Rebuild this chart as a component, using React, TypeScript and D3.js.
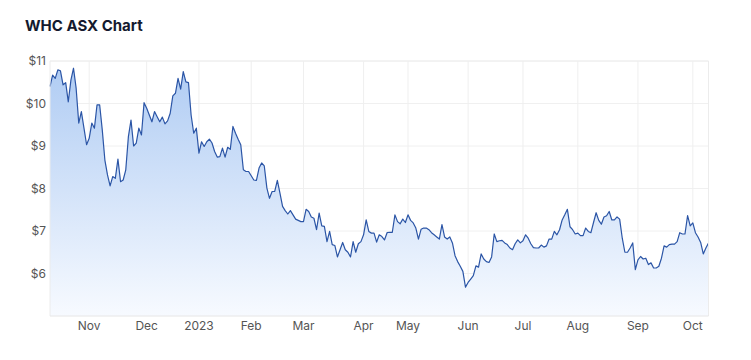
import React from "react";
import * as d3 from "d3";

// Daily closing prices (A$), one per ASX trading day from 11 Oct 2022 to 10 Oct 2023
const prices: number[] = [
  10.40, 10.67, 10.59, 10.79, 10.77, 10.44, 10.49, 10.04, 10.55, 10.83,
  10.36, 9.54, 9.81, 9.42, 9.03, 9.18, 9.54, 9.42, 9.97, 9.97,
  9.38, 8.67, 8.32, 8.06, 8.28, 8.24, 8.69, 8.16, 8.20, 8.44,
  9.22, 9.61, 9.00, 9.07, 9.42, 9.26, 10.02, 9.89, 9.73, 9.57,
  9.81, 9.69, 9.57, 9.68, 9.52, 9.59, 9.77, 10.18, 10.24, 10.59,
  10.34, 10.75, 10.51, 10.49, 9.73, 9.30, 9.42, 8.83, 9.10, 8.99,
  9.10, 9.16, 9.07, 8.87, 8.74, 8.75, 8.95, 8.74, 8.97, 8.92,
  9.46, 9.30, 9.16, 9.03, 8.44, 8.40, 8.40, 8.30, 8.20, 8.19,
  8.48, 8.60, 8.53, 8.01, 7.77, 7.93, 7.93, 8.19, 7.89, 7.58,
  7.48, 7.40, 7.48, 7.38, 7.28, 7.25, 7.22, 7.22, 7.51, 7.46,
  7.33, 7.30, 7.03, 7.42, 7.12, 7.11, 6.75, 6.99, 6.68, 6.66,
  6.39, 6.56, 6.73, 6.56, 6.50, 6.39, 6.75, 6.50, 6.70, 6.75,
  6.91, 7.26, 6.99, 6.95, 6.95, 6.74, 6.91, 6.87, 6.79, 6.96,
  6.97, 6.97, 7.38, 7.22, 7.17, 7.28, 7.20, 7.38, 7.25, 7.19,
  7.07, 6.81, 7.04, 7.07, 7.07, 7.03, 6.96, 6.91, 6.86, 6.81,
  7.15, 6.86, 6.81, 6.86, 6.72, 6.42, 6.28, 6.17, 6.05, 5.68,
  5.79, 5.87, 5.95, 6.18, 6.15, 6.46, 6.34, 6.28, 6.26, 6.39,
  6.93, 6.75, 6.77, 6.78, 6.72, 6.68, 6.60, 6.56, 6.70, 6.79,
  6.72, 6.77, 6.91, 6.83, 6.70, 6.61, 6.60, 6.60, 6.67, 6.62,
  6.65, 6.81, 6.81, 6.99, 6.91, 7.03, 7.26, 7.38, 7.51, 7.10,
  7.03, 6.93, 6.95, 6.89, 6.89, 7.07, 6.99, 6.96, 7.20, 7.43,
  7.25, 7.16, 7.33, 7.36, 7.46, 7.26, 7.26, 7.33, 7.28, 6.83,
  6.50, 6.50, 6.60, 6.72, 6.09, 6.32, 6.40, 6.34, 6.36, 6.21,
  6.25, 6.13, 6.13, 6.17, 6.36, 6.65, 6.62, 6.68, 6.69, 6.69,
  6.75, 6.96, 6.93, 6.93, 7.36, 7.12, 7.19, 6.96, 6.86, 6.73,
  6.46, 6.60, 6.72,
];

const startDate = "2022-10-11";
const asxHolidays = [
  "2022-12-26", "2022-12-27", "2023-01-02", "2023-01-26",
  "2023-04-07", "2023-04-10", "2023-04-25", "2023-06-12",
];
const yTicks = [6, 7, 8, 9, 10, 11];
const yDomain = [5, 11];
const title = "WHC ASX Chart";

function buildTradingDays(count: number): Date[] {
  const fmt = d3.utcFormat("%Y-%m-%d");
  const out: Date[] = [];
  let d = new Date(startDate + "T00:00:00Z");
  while (out.length < count) {
    const wd = d.getUTCDay();
    if (wd !== 0 && wd !== 6 && !asxHolidays.includes(fmt(d))) out.push(d);
    d = d3.utcDay.offset(d, 1);
  }
  return out;
}

const W = 751;
const H = 360;
const M = { left: 50, right: 708.5, top: 61, bottom: 316 };

export default function App() {
  const dates = buildTradingDays(prices.length);
  const x = d3.scaleLinear().domain([0, prices.length - 1]).range([M.left, M.right]);
  const y = d3.scaleLinear().domain(yDomain).range([M.bottom, M.top]);

  const monthTicks: { i: number; label: string }[] = [];
  for (let i = 1; i < dates.length; i++) {
    if (dates[i].getUTCMonth() !== dates[i - 1].getUTCMonth()) {
      const m = dates[i].getUTCMonth();
      monthTicks.push({
        i,
        label: m === 0 ? d3.utcFormat("%Y")(dates[i]) : d3.utcFormat("%b")(dates[i]),
      });
    }
  }

  const line = d3.line<number>().x((_, i) => x(i)).y((d) => y(d));
  const area = d3
    .area<number>()
    .x((_, i) => x(i))
    .y0(M.bottom)
    .y1((d) => y(d));

  const font = "Inter, 'Open Sans', Roboto, sans-serif";

  return (
    <svg
      width={W}
      height={H}
      style={{ position: "absolute", left: 0, top: 0, background: "#fff" }}
    >
      <defs>
        <linearGradient id="fillGrad" gradientUnits="userSpaceOnUse" x1="0" y1={M.top} x2="0" y2={M.bottom}>
          <stop offset="0%" stopColor="#aecbf3" />
          <stop offset="100%" stopColor="#f7faff" />
        </linearGradient>
      </defs>
      <text x={25} y={30.5} fontFamily={font} fontSize={15} fontWeight={700} fill="#141a2e">
        {title}
      </text>

      {/* horizontal grid */}
      {yTicks.map((t) => (
        <line key={"h" + t} x1={M.left} x2={M.right} y1={y(t)} y2={y(t)} stroke={t === 11 ? "#e6e6e6" : "#f0f0f0"} strokeWidth={1} />
      ))}
      {/* vertical grid */}
      {monthTicks.map((t) => (
        <line key={"v" + t.i} x1={x(t.i)} x2={x(t.i)} y1={M.top} y2={M.bottom} stroke="#efefef" strokeWidth={1} />
      ))}

      <path d={area(prices) || ""} fill="url(#fillGrad)" />
      <path d={line(prices) || ""} fill="none" stroke="#2b55a6" strokeWidth={1.2} strokeLinejoin="round" />

      {/* borders */}
      <line x1={M.left} x2={M.left} y1={M.top} y2={M.bottom} stroke="#ececec" />
      <line x1={M.right} x2={M.right} y1={M.top} y2={M.bottom} stroke="#ececec" />
      <line x1={M.left} x2={M.right} y1={M.bottom} y2={M.bottom} stroke="#e6e6e6" />

      {yTicks.map((t) => (
        <text key={"yl" + t} x={46} y={y(t)} dy="0.35em" textAnchor="end" fontFamily={font} fontSize={12} fill="#555">
          {"$" + t}
        </text>
      ))}
      {monthTicks.map((t) => (
        <text key={"xl" + t.i} x={x(t.i)} y={330} textAnchor="middle" fontFamily={font} fontSize={12} fill="#555">
          {t.label}
        </text>
      ))}
    </svg>
  );
}
